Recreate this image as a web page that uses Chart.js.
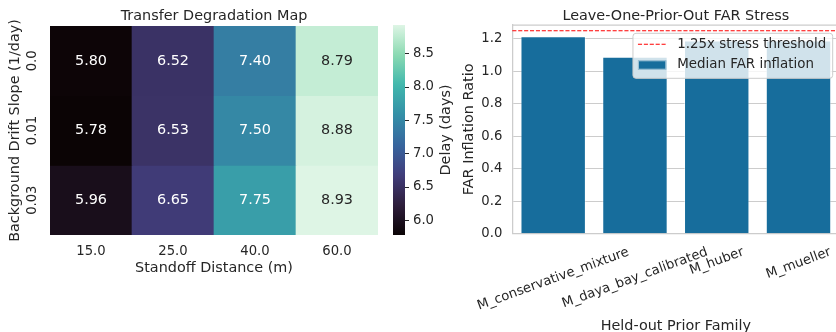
<!DOCTYPE html>
<html><head><meta charset="utf-8">
<script src="https://cdn.jsdelivr.net/npm/chart.js@4.4.1/dist/chart.umd.min.js"></script>
<style>
html,body{margin:0;padding:0;background:#fff;overflow:hidden;}
#wrap{position:relative;width:836px;height:332px;overflow:hidden;background:#fff;}
canvas{position:absolute;top:0;}
</style></head><body>
<div id="wrap">
<canvas id="c1" width="390" height="332" style="left:0px"></canvas>
<canvas id="c2" width="80" height="332" style="left:380px"></canvas>
<canvas id="c3" width="425" height="340" style="left:420px"></canvas>
</div>
<script>
// ---------------- data ----------------
const DISTANCES = ["15.0", "25.0", "40.0", "60.0"];
const DRIFT_SLOPES = ["0.0", "0.01", "0.03"];
const DELAY_SLOPE_0 = [5.80, 6.52, 7.40, 8.79];
const DELAY_SLOPE_001 = [5.78, 6.53, 7.50, 8.88];
const DELAY_SLOPE_003 = [5.96, 6.65, 7.75, 8.93];
const CBAR_TICKS = [6.0, 6.5, 7.0, 7.5, 8.0, 8.5];

const PRIOR_FAMILIES = ["M_conservative_mixture", "M_daya_bay_calibrated", "M_huber", "M_mueller"];
const FAR_INFLATION = [1.215, 1.090, 1.190, 1.190];
const STRESS_THRESHOLD = 1.25;
const FAR_TICKS = [0.0, 0.2, 0.4, 0.6, 0.8, 1.0, 1.2];
const FAR_YMAX = 1.285;

// ---------------- styling ----------------
const TXT = '#262626';
const FONT = "'DejaVu Sans', sans-serif";
const TICK_SIZE = 13.2;
const LEGEND_SIZE = 13.4;
const LABEL_SIZE = 14.4;
const BAR_COLOR = '#176D9C';
const GRID = '#cccccc';
const MAKO_STOPS = [[0, '#0B0405'], [1/7, '#2E1E3C'], [2/7, '#413D7B'], [3/7, '#37659E'],
                    [4/7, '#348FA7'], [5/7, '#40B7AD'], [6/7, '#8BDAB2'], [1, '#DEF5E5']];

Chart.defaults.animation = false;
Chart.defaults.font.family = FONT;
Chart.defaults.font.size = TICK_SIZE;
Chart.defaults.color = TXT;
Chart.defaults.plugins.legend.display = false;
Chart.defaults.plugins.tooltip.enabled = false;

function hexRgb(h) { return [1, 3, 5].map(i => parseInt(h.substr(i, 2), 16)); }
function makoRgb(t) {
  t = Math.max(0, Math.min(1, t));
  for (let i = 0; i < MAKO_STOPS.length - 1; i++) {
    const [t0, c0] = MAKO_STOPS[i], [t1, c1] = MAKO_STOPS[i + 1];
    if (t <= t1) {
      const f = (t - t0) / (t1 - t0), a = hexRgb(c0), b = hexRgb(c1);
      return a.map((v, k) => Math.round(v + (b[k] - v) * f));
    }
  }
  return hexRgb(MAKO_STOPS[MAKO_STOPS.length - 1][1]);
}
const mako = t => 'rgb(' + makoRgb(t).join(',') + ')';
function relLum(t) {
  const c = makoRgb(t).map(v => { v /= 255; return v <= 0.03928 ? v / 12.92 : Math.pow((v + 0.055) / 1.055, 2.4); });
  return 0.2126 * c[0] + 0.7152 * c[1] + 0.0722 * c[2];
}
function txt(ctx, s, x, y, o) {
  ctx.save();
  ctx.font = (o.size || LABEL_SIZE) + 'px ' + FONT;
  ctx.fillStyle = o.color || TXT;
  ctx.textAlign = o.align || 'center';
  ctx.textBaseline = o.baseline || 'middle';
  ctx.translate(x, y);
  if (o.rot) ctx.rotate(o.rot);
  ctx.fillText(s, 0, 0);
  ctx.restore();
}

// ---------------- heatmap ----------------
const HEAT_ROWS = [DELAY_SLOPE_0, DELAY_SLOPE_001, DELAY_SLOPE_003];
const VMIN = Math.min(...HEAT_ROWS.flat());
const VMAX = Math.max(...HEAT_ROWS.flat());
const norm = v => (v - VMIN) / (VMAX - VMIN);

const heatDatasets = HEAT_ROWS.map((row, r) => ({
  label: DRIFT_SLOPES[r],
  data: row.map(() => [r, r + 1]),
  backgroundColor: row.map(v => mako(norm(v))),
  borderWidth: 0,
  barPercentage: 1,
  categoryPercentage: 1,
  grouped: false
}));

const heatPlugin = {
  id: 'heatAnn',
  afterDatasetsDraw(chart) {
    const ctx = chart.ctx;
    HEAT_ROWS.forEach((row, r) => {
      const meta = chart.getDatasetMeta(r);
      row.forEach((v, i) => {
        const el = meta.data[i];
        const cy = (el.y + el.base) / 2;
        txt(ctx, v.toFixed(2), el.x, cy, { size: LABEL_SIZE, color: relLum(norm(v)) > 0.408 ? TXT : '#ffffff' });
      });
    });
  },
  afterDraw(chart) {
    const ctx = chart.ctx, ca = chart.chartArea, y = chart.scales.y;
    DRIFT_SLOPES.forEach((lab, r) => {
      txt(ctx, lab, 33, y.getPixelForValue(r + 0.5), { size: TICK_SIZE, rot: -Math.PI / 2 });
    });
    txt(ctx, 'Transfer Degradation Map', (ca.left + ca.right) / 2, 16, {});
  }
};

new Chart(document.getElementById('c1'), {
  type: 'bar',
  data: { labels: DISTANCES, datasets: heatDatasets },
  options: {
    responsive: false,
    layout: { padding: { top: 26, right: 12, left: 0, bottom: 0 } },
    scales: {
      x: {
        type: 'category', offset: true,
        grid: { display: false, drawTicks: false }, border: { display: false },
        ticks: { padding: 9, maxRotation: 0, autoSkip: false },
        title: { display: true, text: 'Standoff Distance (m)', font: { size: LABEL_SIZE }, padding: { top: 0, bottom: 55 } },
        afterFit: s => { s.height = 97; }
      },
      y: {
        type: 'linear', min: 0, max: DRIFT_SLOPES.length, reverse: true,
        grid: { display: false, drawTicks: false }, border: { display: false },
        ticks: { display: false },
        title: { display: true, text: 'Background Drift Slope (1/day)', font: { size: LABEL_SIZE }, padding: { top: 6.4, bottom: 0 } },
        afterFit: s => { s.width = 50; }
      }
    }
  },
  plugins: [heatPlugin]
});

// ---------------- colorbar ----------------
new Chart(document.getElementById('c2'), {
  type: 'bar',
  data: {
    labels: ['Delay'],
    datasets: [{
      data: [[VMIN, VMAX]],
      backgroundColor: (c) => {
        const ch = c.chart;
        if (!ch.chartArea || !ch.scales.y) return MAKO_STOPS[0][1];
        const ys = ch.scales.y;
        const g = ch.ctx.createLinearGradient(0, ys.getPixelForValue(VMIN), 0, ys.getPixelForValue(VMAX));
        for (let i = 0; i <= 40; i++) g.addColorStop(i / 40, mako(i / 40));
        return g;
      },
      borderWidth: 0, barPercentage: 1, categoryPercentage: 1
    }]
  },
  options: {
    responsive: false,
    layout: { padding: { left: 13, top: 25, bottom: 97, right: 0 } },
    scales: {
      x: { display: false },
      y: {
        position: 'right', min: VMIN, max: VMAX,
        afterBuildTicks: s => { s.ticks = CBAR_TICKS.map(v => ({ value: v })); },
        grid: { drawOnChartArea: false, drawTicks: true, tickLength: 4, color: TXT, lineWidth: 1 },
        border: { display: false },
        ticks: { padding: 4, callback: v => Number(v).toFixed(1) },
        afterFit: s => { s.width = 55; }
      }
    }
  },
  plugins: [{
    id: 'cbarLabel',
    afterDraw(chart) {
      const ca = chart.chartArea;
      txt(chart.ctx, 'Delay (days)', 66, (ca.top + ca.bottom) / 2, { rot: -Math.PI / 2 });
    }
  }]
});

// ---------------- FAR bar chart ----------------
const barPlugin = {
  id: 'farExtras',
  afterDatasetsDraw(chart) {
    const ctx = chart.ctx, ca = chart.chartArea, ys = chart.scales.y;
    const ty = ys.getPixelForValue(STRESS_THRESHOLD);
    ctx.save();
    ctx.strokeStyle = '#ff0000'; ctx.lineWidth = 1.1; ctx.setLineDash([4.1, 1.8]);
    ctx.beginPath(); ctx.moveTo(ca.left, ty); ctx.lineTo(ca.right, ty); ctx.stroke();
    ctx.restore();
    ctx.save();
    ctx.strokeStyle = GRID; ctx.lineWidth = 1.25;
    ctx.beginPath(); ctx.moveTo(ca.left, ca.top); ctx.lineTo(ca.right, ca.top); ctx.stroke();
    ctx.restore();
  },
  afterDraw(chart) {
    const ctx = chart.ctx, ca = chart.chartArea, xs = chart.scales.x;
    txt(ctx, 'Leave-One-Prior-Out FAR Stress', (ca.left + ca.right) / 2, 16, {});
    ctx.save();
    ctx.font = TICK_SIZE + 'px ' + FONT;
    const ang = 20 * Math.PI / 180, h = 15;
    PRIOR_FAMILIES.forEach((lab, i) => {
      const w = ctx.measureText(lab).width;
      const H = w * Math.sin(ang) + h * Math.cos(ang);
      const cy = ca.bottom + 11 + H / 2;
      txt(ctx, lab, xs.getPixelForValue(i), cy, { size: TICK_SIZE, rot: -ang });
    });
    ctx.restore();
    // legend
    const labels = [STRESS_THRESHOLD + 'x stress threshold', chart.data.datasets[0].label];
    ctx.save();
    ctx.font = LEGEND_SIZE + 'px ' + FONT;
    const tw = Math.max(...labels.map(l => ctx.measureText(l).width));
    ctx.restore();
    const right = ca.right - 6.7, top = ca.top + 8.3;
    const left = right - (44.3 + tw + 6.5), bottom = top + 45;
    ctx.save();
    ctx.fillStyle = 'rgba(255,255,255,0.8)';
    ctx.strokeStyle = GRID; ctx.lineWidth = 1;
    const r = 3;
    ctx.beginPath();
    ctx.moveTo(left + r, top); ctx.lineTo(right - r, top); ctx.arcTo(right, top, right, top + r, r);
    ctx.lineTo(right, bottom - r); ctx.arcTo(right, bottom, right - r, bottom, r);
    ctx.lineTo(left + r, bottom); ctx.arcTo(left, bottom, left, bottom - r, r);
    ctx.lineTo(left, top + r); ctx.arcTo(left, top, left + r, top, r);
    ctx.closePath(); ctx.fill(); ctx.stroke();
    const y1 = top + 11, y2 = top + 31.7;
    ctx.strokeStyle = '#ff0000'; ctx.lineWidth = 1.1; ctx.setLineDash([4.1, 1.8]);
    ctx.beginPath(); ctx.moveTo(left + 5, y1); ctx.lineTo(left + 33.3, y1); ctx.stroke();
    ctx.setLineDash([]);
    ctx.fillStyle = BAR_COLOR;
    ctx.fillRect(left + 5, y2 - 4.7, 28.3, 9.4);
    ctx.strokeStyle = 'rgba(255,255,255,0.6)'; ctx.lineWidth = 1;
    ctx.strokeRect(left + 5.5, y2 - 4.2, 27.3, 8.4);
    ctx.restore();
    txt(ctx, labels[0], left + 44.3, y1, { size: LEGEND_SIZE, align: 'left' });
    txt(ctx, labels[1], left + 44.3, y2, { size: LEGEND_SIZE, align: 'left' });
  }
};

new Chart(document.getElementById('c3'), {
  type: 'bar',
  data: {
    labels: PRIOR_FAMILIES,
    datasets: [{
      label: 'Median FAR inflation',
      data: FAR_INFLATION,
      backgroundColor: BAR_COLOR,
      borderColor: 'rgba(255,255,255,0.45)',
      borderWidth: 1,
      barPercentage: 0.8,
      categoryPercentage: 1
    }]
  },
  options: {
    responsive: false,
    layout: { padding: { top: 25, right: 5.6, left: 0, bottom: 0 } },
    scales: {
      x: {
        grid: { display: false, drawTicks: false },
        border: { display: true, color: GRID, width: 1.25 },
        ticks: { display: false },
        title: { display: true, text: 'Held-out Prior Family', font: { size: LABEL_SIZE }, padding: { top: 0, bottom: 4.8 } },
        afterFit: s => { s.height = 106.3; }
      },
      y: {
        min: 0, max: FAR_YMAX,
        afterBuildTicks: s => { s.ticks = FAR_TICKS.map(v => ({ value: v })); },
        grid: { color: GRID, lineWidth: 1, drawTicks: false },
        border: { display: true, color: GRID, width: 1.25 },
        ticks: { padding: 10, callback: v => Number(v).toFixed(1) },
        title: { display: true, text: 'FAR Inflation Ratio', font: { size: LABEL_SIZE }, padding: { top: 40.4, bottom: 0 } },
        afterFit: s => { s.width = 92.3; }
      }
    }
  },
  plugins: [barPlugin]
});
</script>
</body></html>
